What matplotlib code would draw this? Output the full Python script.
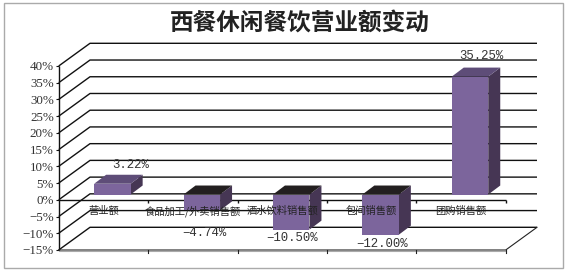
import matplotlib
matplotlib.use("Agg")
import matplotlib.pyplot as plt
from matplotlib.patches import Polygon, Rectangle

categories = ["营业额", "食品加工/外卖销售额", "酒水饮料销售额", "包间销售额", "团购销售额"]
values = [3.22, -4.74, -10.50, -12.00, 35.25]
value_labels = ["3.22%", "−4.74%", "−10.50%", "−12.00%", "35.25%"]
y_ticks = [40, 35, 30, 25, 20, 15, 10, 5, 0, -5, -10, -15]
title = "西餐休闲餐饮营业额变动"

W, H = 567, 272
CJK = ["Noto Sans CJK SC", "DejaVu Sans"]
NUM = ["Liberation Serif", "DejaVu Sans"]
MONO = ["Liberation Mono", "DejaVu Sans"]
FRONT, SIDE, TOP = "#7c659c", "#463654", "#5e4d78"
NEG_TOP = "#231f20"
INK = "#111111"
TXT = "#333333"

fig = plt.figure(figsize=(W / 100, H / 100), dpi=100, facecolor="white")
L, R, T, B = 58.7, 505.7, 66.0, 250.0
ax = fig.add_axes([L / W, 1 - B / H, (R - L) / W, (B - T) / H])
ax.set_xlim(0, 5)
ax.set_ylim(-15, 40)
ax.patch.set_visible(False)
for s in ax.spines.values():
    s.set_visible(False)

# depth helpers: pixels -> data units
ux = 5 / (R - L)
uy = 55 / (B - T)
WALL_DX, WALL_DY = 31.3 * ux, 22.7 * uy
BAR_W = 36.5 * ux
BAR_DX, BAR_DY = 12.0 * ux, 9.0 * uy
BASE_DX, BASE_DY = 9.0 * ux, 5.3 * uy

line = dict(color=INK, lw=1.0, clip_on=False, solid_capstyle="butt")
for v in y_ticks:
    ax.plot([0, WALL_DX, 5 + WALL_DX], [v, v + WALL_DY, v + WALL_DY], zorder=1, **line)
# walls and floor
ax.plot([0, 0], [-15, 40], zorder=2, **line)
ax.plot([0, 5, 5 + WALL_DX], [-15, -15, -15 + WALL_DY], zorder=2, color="#222222", lw=0.8, clip_on=False)
ax.plot([0, 5], [-15.35, -15.35], zorder=2, color="#aaaaaa", lw=0.8, clip_on=False)

# bars
for i, v in enumerate(values):
    x0 = i + 0.5 + BASE_DX - BAR_W / 2
    x1 = x0 + BAR_W
    b = BASE_DY
    t = v + BASE_DY
    hi = max(b, t)
    top_col = TOP if v > 0 else NEG_TOP
    ax.add_patch(Polygon([(x1, b), (x1 + BAR_DX, b + BAR_DY), (x1 + BAR_DX, t + BAR_DY), (x1, t)],
                         fc=SIDE, ec="none", zorder=3, clip_on=False))
    ax.add_patch(Polygon([(x0, hi), (x0 + BAR_DX, hi + BAR_DY), (x1 + BAR_DX, hi + BAR_DY), (x1, hi)],
                         fc=top_col, ec="none", zorder=3, clip_on=False))
    ax.add_patch(Rectangle((x0, min(b, t)), BAR_W, abs(v), fc=FRONT, ec="none", zorder=4, clip_on=False))

# zero axis above the floor, below the bars
ax.plot([0, 5], [0, 0], zorder=2, **line)
for x in range(1, 6):
    ax.plot([x, x], [0, -0.9], zorder=2, **line)
    ax.plot([x, x], [-15, -15.9], zorder=2, color="#222222", lw=0.8, clip_on=False)

# axis labels
ax.set_xticks([])
ax.set_yticks(y_ticks)
ax.set_yticklabels([f"{v}%".replace("-", "−") for v in y_ticks], fontfamily=NUM, fontsize=9.4, color=TXT)
ax.tick_params(axis="y", length=2.0, width=0.8, pad=1.5, color=INK)

label_y = -3.3
for i, c in enumerate(categories):
    ax.text(i + 0.5, label_y, c, ha="center", va="center", fontfamily=CJK, fontsize=7.4,
            color="#222222", zorder=6, clip_on=False)

val_x = [0.8, 1.625, 2.61, 3.62, 4.73]
val_y = [10.4, -9.9, -11.3, -13.1, 43.0]
for x, y, s in zip(val_x, val_y, value_labels):
    ax.text(x, y, s, ha="center", va="center", fontfamily=MONO, fontsize=8.9,
            color=TXT, zorder=6, clip_on=False)

fig.text(300 / W, 1 - 23 / H, title, ha="center", va="center", fontfamily=CJK,
         fontsize=17, fontweight="bold", color="#222222")
fig.add_artist(Rectangle((3.5 / W, 1 - 267.5 / H), 559.5 / W, 264.5 / H, transform=fig.transFigure,
                         fc="none", ec="#aaaaaa", lw=1.0))
fig.savefig("out.png", dpi=100, facecolor="white")
